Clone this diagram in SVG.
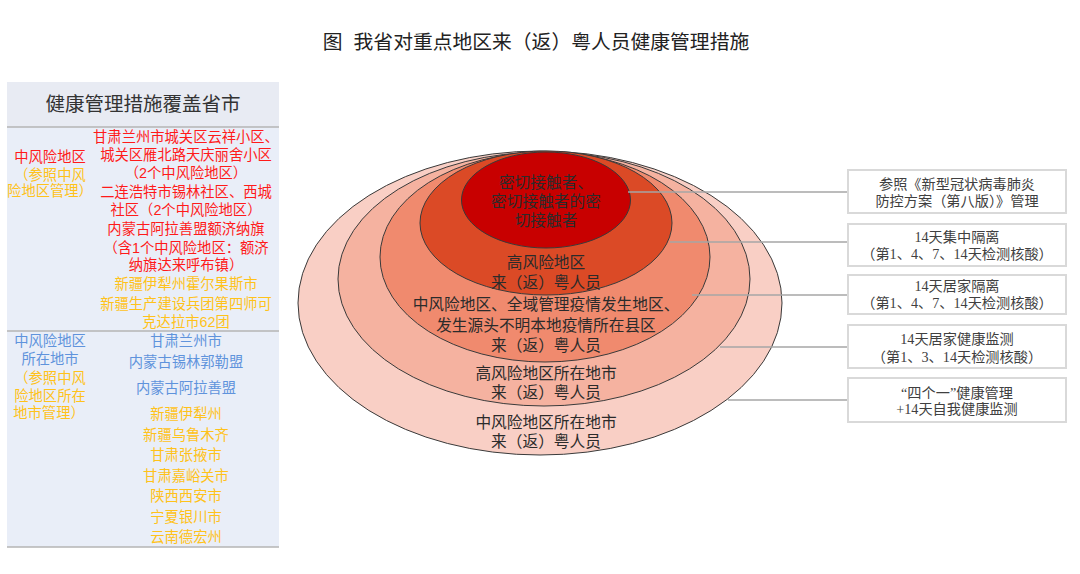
<svg xmlns="http://www.w3.org/2000/svg" width="1080" height="574" viewBox="0 0 1080 574">
<style>
.t{font-family:"Liberation Sans","Noto Sans CJK SC",sans-serif;text-anchor:middle;dominant-baseline:central}
.title{font-size:19.8px;fill:#222}
.hd{font-size:19.5px;fill:#333}
.p{font-size:14.3px}
.r{fill:#ff1a1a}.y{fill:#ffc21a}.b{fill:#5f93dc}
.e{font-size:15.7px;fill:#2b2b2b}
.bx{fill:#fff;stroke:#d9d9d9;stroke-width:2}
.bt{font-family:"Liberation Serif","Noto Sans CJK SC",serif;font-size:14.2px;fill:#404040;text-anchor:middle;dominant-baseline:central}
.ln{stroke:#a6a6a6;stroke-width:1.5;fill:none}
.el{stroke:#3a3a3a;stroke-width:1}
</style>
<rect width="1080" height="574" fill="#fff"/>
<text class="t title" x="536" y="42" xml:space="preserve">图  我省对重点地区来（返）粤人员健康管理措施</text>

<g id="panel">
<rect x="7" y="82" width="272" height="465" fill="#e9eef8"/>
<rect x="7" y="82" width="272" height="45" fill="#e8ebf3"/>
<line x1="7" y1="127" x2="279" y2="127" stroke="#b4b4b4" stroke-width="1.5"/>
<line x1="7" y1="331" x2="279" y2="331" stroke="#b4b4b4" stroke-width="1.5"/>
<line x1="7" y1="547" x2="279" y2="547" stroke="#b4b4b4" stroke-width="1.5"/>
<text class="t hd" x="143" y="104">健康管理措施覆盖省市</text>
<g class="t p">
<text class="r" x="50" y="157">中风险地区</text>
<text class="y" x="50" y="175">（参照中风</text>
<text class="y" x="50" y="191">险地区管理）</text>
<text class="r" x="186" y="137">甘肃兰州市城关区云祥小区、</text>
<text class="r" x="186" y="155">城关区雁北路天庆丽舍小区</text>
<text class="r" x="186" y="173">（2个中风险地区）</text>
<text class="r" x="186" y="192">二连浩特市锡林社区、西城</text>
<text class="r" x="186" y="210">社区（2个中风险地区）</text>
<text class="r" x="186" y="229">内蒙古阿拉善盟额济纳旗</text>
<text class="r" x="186" y="248">（含1个中风险地区：额济</text>
<text class="r" x="186" y="265">纳旗达来呼布镇）</text>
<text class="y" x="186" y="284">新疆伊犁州霍尔果斯市</text>
<text class="y" x="186" y="304">新疆生产建设兵团第四师可</text>
<text class="y" x="186" y="322">克达拉市62团</text>
<text class="b" x="50" y="341">中风险地区</text>
<text class="b" x="50" y="359">所在地市</text>
<text class="y" x="50" y="378">（参照中风</text>
<text class="y" x="50" y="396">险地区所在</text>
<text class="y" x="49" y="413">地市管理）</text>
<text class="b" x="186" y="341">甘肃兰州市</text>
<text class="b" x="186" y="362">内蒙古锡林郭勒盟</text>
<text class="b" x="186" y="388">内蒙古阿拉善盟</text>
<text class="y" x="186" y="414">新疆伊犁州</text>
<text class="y" x="186" y="435">新疆乌鲁木齐</text>
<text class="y" x="186" y="455">甘肃张掖市</text>
<text class="y" x="186" y="476">甘肃嘉峪关市</text>
<text class="y" x="186" y="496">陕西西安市</text>
<text class="y" x="186" y="517">宁夏银川市</text>
<text class="y" x="186" y="537">云南德宏州</text>
</g>
</g>

<g id="ring5"><ellipse class="el" cx="540" cy="303" rx="242" ry="152" fill="#f9cfc5"/></g>
<g id="ring4"><ellipse class="el" cx="544" cy="279" rx="206" ry="127" fill="#f5b2a0"/></g>
<g id="ring3"><ellipse class="el" cx="545" cy="257" rx="165" ry="105" fill="#f08a6e"/></g>
<g id="ring2"><ellipse class="el" cx="546" cy="223" rx="126" ry="72" fill="#db4a26"/></g>
<g id="ring1"><ellipse class="el" cx="546" cy="200" rx="84.5" ry="48" fill="#c80000"/></g>

<g id="ring-labels" class="t e">
<text x="546" y="182">密切接触者、</text>
<text x="546" y="201">密切接触者的密</text>
<text x="546" y="220">切接触者</text>
<text x="546" y="262">高风险地区</text>
<text x="546" y="282">来（返）粤人员</text>
<text x="546" y="304">中风险地区、全域管理疫情发生地区、</text>
<text x="546" y="325">发生源头不明本地疫情所在县区</text>
<text x="546" y="345">来（返）粤人员</text>
<text x="546" y="373">高风险地区所在地市</text>
<text x="546" y="392">来（返）粤人员</text>
<text x="546" y="422">中风险地区所在地市</text>
<text x="546" y="441">来（返）粤人员</text>
</g>

<g id="connectors">
<line class="ln" x1="628" y1="192" x2="848" y2="192"/>
<line class="ln" x1="670" y1="242" x2="848" y2="242"/>
<line class="ln" x1="692" y1="295" x2="848" y2="295"/>
<line class="ln" x1="720" y1="347" x2="848" y2="347"/>
<line class="ln" x1="728" y1="400" x2="848" y2="400"/>
</g>

<g id="box1"><rect class="bx" x="848" y="170" width="218" height="43"/>
<text class="bt" x="957" y="184">参照《新型冠状病毒肺炎</text>
<text class="bt" x="957" y="201">防控方案（第八版）》管理</text></g>
<g id="box2"><rect class="bx" x="848" y="224" width="218" height="42"/>
<text class="bt" x="957" y="237">14天集中隔离</text>
<text class="bt" x="957" y="254">（第1、4、7、14天检测核酸）</text></g>
<g id="box3"><rect class="bx" x="848" y="275" width="218" height="39"/>
<text class="bt" x="957" y="286">14天居家隔离</text>
<text class="bt" x="957" y="303">（第1、4、7、14天检测核酸）</text></g>
<g id="box4"><rect class="bx" x="848" y="325" width="218" height="43"/>
<text class="bt" x="957" y="339">14天居家健康监测</text>
<text class="bt" x="957" y="357">（第1、3、14天检测核酸）</text></g>
<g id="box5"><rect class="bx" x="848" y="378" width="218" height="44"/>
<text class="bt" x="957" y="393">“四个一”健康管理</text>
<text class="bt" x="957" y="409">+14天自我健康监测</text></g>
</svg>
